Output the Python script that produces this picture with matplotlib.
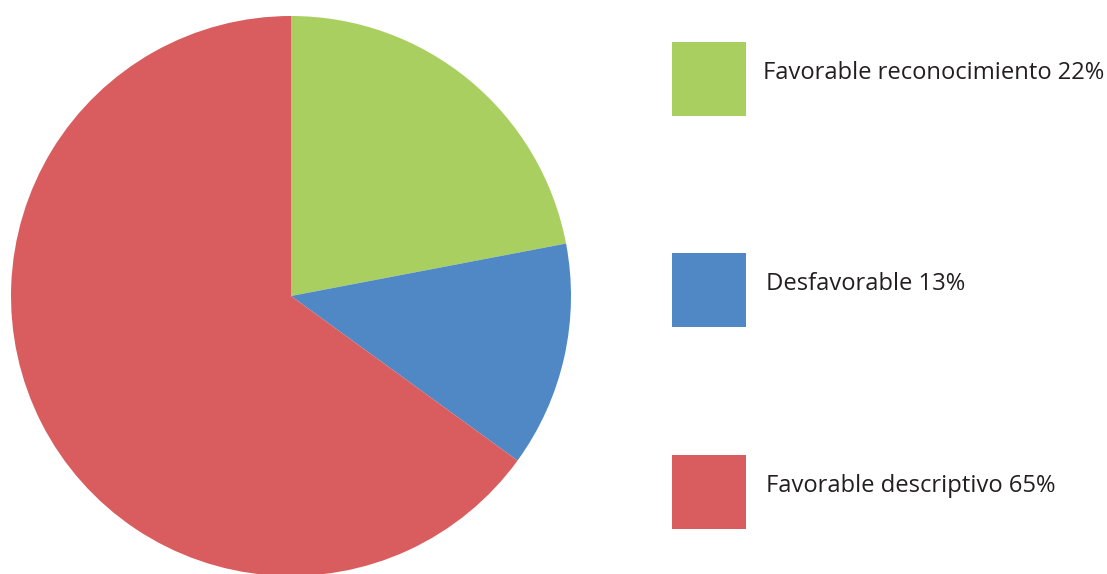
import matplotlib
matplotlib.use("Agg")
import matplotlib.pyplot as plt
from matplotlib.patches import Rectangle

labels = ["Favorable reconocimiento 22%", "Desfavorable 13%", "Favorable descriptivo 65%"]
values = [22, 13, 65]
colors = ["#AACF61", "#5088C6", "#D95D5E"]

W, H = 1107, 574
fig = plt.figure(figsize=(W / 100, H / 100), dpi=100)

# pie: center (291, 296) px from top, radius 280 px
cx, cy, r = 291, 296, 280
ax = fig.add_axes([(cx - r) / W, (H - cy - r) / H, 2 * r / W, 2 * r / H])
ax.pie(values, colors=colors, startangle=90, counterclock=False, radius=1,
       wedgeprops=dict(linewidth=0))
ax.set_xlim(-1, 1)
ax.set_ylim(-1, 1)
ax.set_aspect("equal")
ax.axis("off")

# legend boxes and labels
box_y = [79, 290, 492]
text_x = [763, 766, 766]
for lab, col, y, tx in zip(labels, colors, box_y, text_x):
    fig.add_artist(Rectangle((672 / W, (H - y - 37) / H), 74 / W, 74 / H,
                             transform=fig.transFigure, color=col, lw=0))
    fig.text(tx / W, (H - y + 6) / H, lab, fontsize=17.1, family="Open Sans",
             color="#231F20", va="center", ha="left")

fig.savefig("out.png", dpi=100)
